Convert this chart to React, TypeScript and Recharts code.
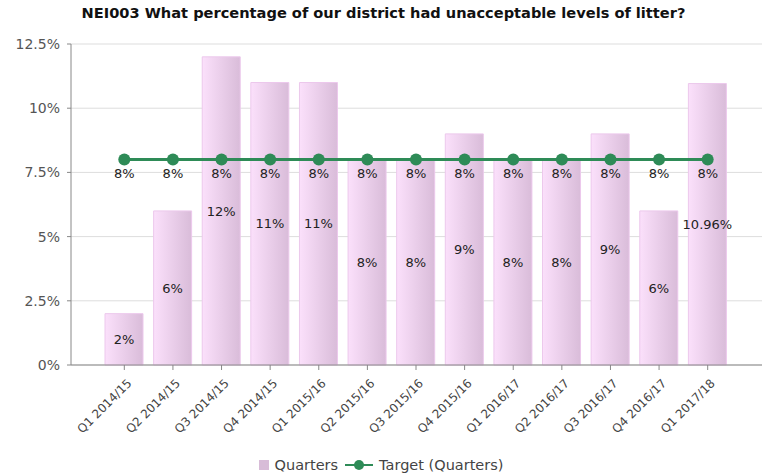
import { ComposedChart, Bar, Line, XAxis, YAxis, CartesianGrid, Legend, LabelList } from 'recharts';

const quarters = [
  'Q1 2014/15', 'Q2 2014/15', 'Q3 2014/15', 'Q4 2014/15',
  'Q1 2015/16', 'Q2 2015/16', 'Q3 2015/16', 'Q4 2015/16',
  'Q1 2016/17', 'Q2 2016/17', 'Q3 2016/17', 'Q4 2016/17',
  'Q1 2017/18',
];
const actual = [2, 6, 12, 11, 11, 8, 8, 9, 8, 8, 9, 6, 10.96];
const target = [8, 8, 8, 8, 8, 8, 8, 8, 8, 8, 8, 8, 8];
const yTicks = [0, 2.5, 5, 7.5, 10, 12.5];

const data = quarters.map((q, i) => ({ name: q, quarters: actual[i], target: target[i] }));

const GREEN = '#2e8b57';
const FONT = '"DejaVu Sans", Verdana, sans-serif';

function XTick({ x, y, payload }: any) {
  const ax = x + 8;
  const ay = y + 12;
  return (
    <text
      x={ax}
      y={ay}
      transform={`rotate(-45, ${ax}, ${ay})`}
      textAnchor="end"
      fontSize={12}
      fontFamily={FONT}
      fill="#444"
    >
      {payload.value}
    </text>
  );
}

function LegendBox() {
  return (
    <div style={{ display: 'flex', justifyContent: 'center', alignItems: 'center', fontFamily: FONT, fontSize: 14.5, color: '#444' }}>
      <span style={{ display: 'inline-block', width: 10, height: 10, background: '#d8bcd8', marginRight: 6 }} />
      <span style={{ marginRight: 7 }}>Quarters</span>
      <svg width={28} height={12} style={{ marginRight: 6 }}>
        <line x1={0} y1={6} x2={28} y2={6} stroke={GREEN} strokeWidth={2} />
        <circle cx={14} cy={6} r={5} fill={GREEN} />
      </svg>
      <span>Target (Quarters)</span>
    </div>
  );
}

const fmt = (v: any) => `${v}%`;

export default function App() {
  return (
    <div style={{ position: 'absolute', left: 0, top: 0, width: 767, height: 475, background: '#fff' }}>
      <div
        style={{
          position: 'absolute', left: 0, top: 4, width: 767, textAlign: 'center',
          fontFamily: FONT, fontWeight: 'bold', fontSize: 14.6, color: '#111',
        }}
      >
        NEI003 What percentage of our district had unacceptable levels of litter?
      </div>
      <ComposedChart width={767} height={475} data={data} margin={{ top: 44, right: 5, bottom: 64, left: 0 }}>
        <defs>
          <linearGradient id="barGrad" x1="0" y1="0" x2="1" y2="0">
            <stop offset="0%" stopColor="#fbe0fb" />
            <stop offset="100%" stopColor="#d9bcd9" />
          </linearGradient>
        </defs>
        <CartesianGrid vertical={false} stroke="#dddddd" />
        <XAxis
          dataKey="name"
          interval={0}
          padding={{ left: 29, right: 30 }}
          tick={<XTick />}
          tickSize={5}
          stroke="#888"
          tickLine={{ stroke: '#888' }}
        />
        <YAxis
          width={71}
          domain={[0, 12.5]}
          ticks={yTicks}
          tickFormatter={fmt}
          tickSize={4}
          tickMargin={7}
          stroke="#888"
          tick={{ fill: '#555', fontSize: 14, fontFamily: FONT }}
        />
        <Legend verticalAlign="bottom" align="center" wrapperStyle={{ bottom: 2 }} content={<LegendBox />} />
        <Bar dataKey="quarters" name="Quarters" barSize={38} fill="url(#barGrad)" stroke="#ecc8ec" isAnimationActive={false}>
          <LabelList dataKey="quarters" position="center" formatter={fmt} fill="#222" fontSize={13} fontFamily={FONT} />
        </Bar>
        <Line
          dataKey="target"
          name="Target (Quarters)"
          type="linear"
          stroke={GREEN}
          strokeWidth={3}
          dot={{ r: 6, fill: GREEN, stroke: GREEN, strokeWidth: 0 }}
          isAnimationActive={false}
        >
          <LabelList dataKey="target" position="bottom" offset={9} formatter={fmt} fill="#222" fontSize={13} fontFamily={FONT} />
        </Line>
      </ComposedChart>
    </div>
  );
}
